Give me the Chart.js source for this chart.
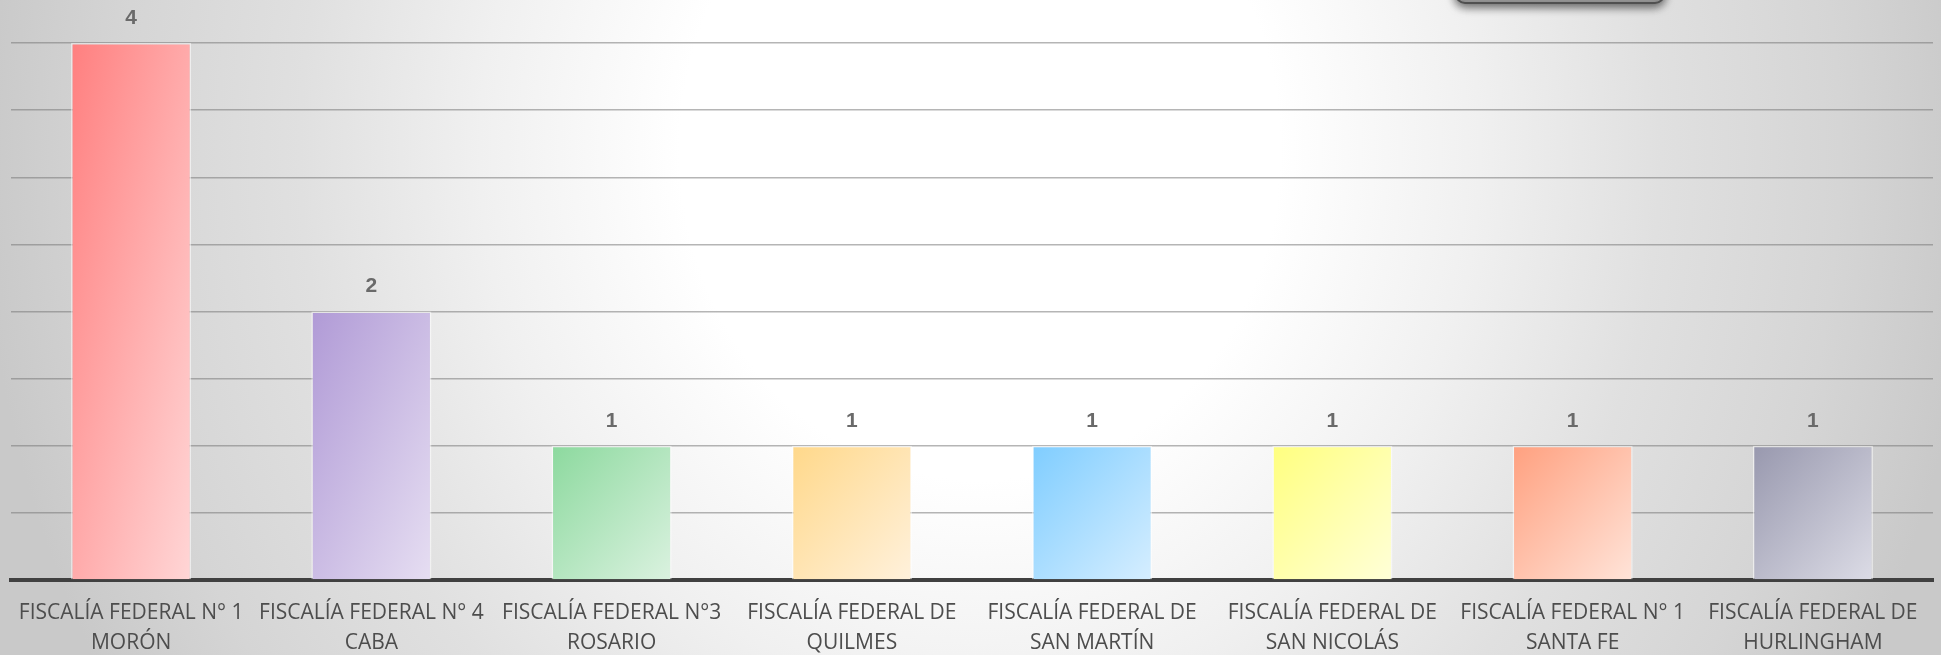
<!DOCTYPE html>
<html>
<head>
<meta charset="utf-8">
<script src="https://cdn.jsdelivr.net/npm/chart.js@4/dist/chart.umd.min.js"></script>
<style>
    html, body {
        margin: 0;
        padding: 0;
        width: 1941px;
        height: 655px;
        overflow: hidden;
    }
    body {
        background: radial-gradient(ellipse 1000px 1100px at 980px 150px,
            #ffffff 0%, #ffffff 30%, #f0f0f0 50%, #e0e0e0 68%, #d5d5d5 86%, #c9c9c9 100%);
    }
    #chart-wrap {
        position: relative;
        width: 1941px;
        height: 655px;
    }
</style>
</head>
<body>
<div id="chart-wrap">
    <canvas id="fiscalias-chart"></canvas>
</div>
<script>
// Categories (two-line labels)
const fiscalias = [
    ['FISCALÍA FEDERAL N° 1', 'MORÓN'],
    ['FISCALÍA FEDERAL N° 4', 'CABA'],
    ['FISCALÍA FEDERAL N°3', 'ROSARIO'],
    ['FISCALÍA FEDERAL DE', 'QUILMES'],
    ['FISCALÍA FEDERAL DE', 'SAN MARTÍN'],
    ['FISCALÍA FEDERAL DE', 'SAN NICOLÁS'],
    ['FISCALÍA FEDERAL N° 1', 'SANTA FE'],
    ['FISCALÍA FEDERAL DE', 'HURLINGHAM']
];

// Series values
const casos = [4, 2, 1, 1, 1, 1, 1, 1];

// Bar gradient colours: start (top-left) and end (bottom-right)
const barStartColors = ['#ff7f7f', '#b09ad6', '#8cd99e', '#ffd88a', '#7fcdff', '#ffff7f', '#ffa07f', '#9898ae'];
const barEndColors = ['#ffd6d6', '#e6def2', '#dbf2e0', '#fff1dc', '#d6eeff', '#ffffd8', '#ffe4d9', '#dcdce6'];

// Value axis
const yMax = 4;
const yStep = 0.5;

const ctx = document.getElementById('fiscalias-chart').getContext('2d');

// Corner-to-corner gradient stretched to each bar (isolines parallel to the other diagonal)
function barGradient(context) {
    const chart = context.chart;
    if (!chart.chartArea || !chart.scales.x) return barStartColors[context.dataIndex];
    const i = context.dataIndex;
    const xScale = chart.scales.x;
    const yScale = chart.scales.y;
    const cx = xScale.getPixelForValue(i);
    const w = xScale.width / fiscalias.length / 2;
    const top = yScale.getPixelForValue(casos[i]);
    const h = yScale.getPixelForValue(0) - top;
    const x0 = cx - w / 2;
    const k = 2 * w * h / (w * w + h * h);
    const g = chart.ctx.createLinearGradient(x0, top, x0 + k * h, top + k * w);
    g.addColorStop(0, barStartColors[i]);
    g.addColorStop(1, barEndColors[i]);
    return g;
}

// Value labels above the bars
const valueLabels = {
    id: 'valueLabels',
    afterDatasetsDraw(chart) {
        const c = chart.ctx;
        const meta = chart.getDatasetMeta(0);
        c.save();
        c.font = 'bold 21px "Liberation Sans", Arial, sans-serif';
        c.fillStyle = '#6a6a6a';
        c.textAlign = 'center';
        c.textBaseline = 'middle';
        meta.data.forEach((bar, i) => {
            c.fillText(String(casos[i]), bar.x, bar.y - 25);
        });
        c.restore();
    }
};

// Title box cut off at the top edge of the picture
const titleBox = {
    id: 'titleBox',
    beforeDraw(chart) {
        const c = chart.ctx;
        c.save();
        c.shadowColor = 'rgba(0,0,0,0.6)';
        c.shadowBlur = 10;
        c.shadowOffsetY = 3;
        c.fillStyle = '#9a9a9a';
        c.strokeStyle = '#505050';
        c.lineWidth = 2;
        c.beginPath();
        c.roundRect(1456, -40, 208, 43, 9);
        c.fill();
        c.stroke();
        c.restore();
    }
};

new Chart(ctx, {
    type: 'bar',
    data: {
        labels: fiscalias,
        datasets: [{
            label: 'Casos',
            data: casos,
            backgroundColor: barGradient,
            borderColor: 'rgba(255,255,255,0.55)',
            borderWidth: 1.5,
            barPercentage: 0.5,
            categoryPercentage: 1.0
        }]
    },
    options: {
        responsive: true,
        maintainAspectRatio: false,
        animation: false,
        layout: {
            padding: { top: 43, left: 11, right: 8, bottom: 0 }
        },
        plugins: {
            legend: { display: false },
            tooltip: { enabled: false },
            title: { display: false }
        },
        scales: {
            x: {
                grid: { display: false, drawTicks: false },
                border: { display: true, color: '#404040', width: 4 },
                ticks: {
                    color: '#4d4d4d',
                    padding: 18,
                    maxRotation: 0,
                    autoSkip: false,
                    font: { family: '"Open Sans", sans-serif', size: 21, lineHeight: 1.43 }
                },
                afterFit(scale) {
                    scale.height = 75;
                    scale.paddingLeft = 0;
                    scale.paddingRight = 0;
                }
            },
            y: {
                min: 0,
                max: yMax,
                grid: {
                    color: 'rgba(120,120,120,0.55)',
                    lineWidth: 1.5,
                    drawTicks: false
                },
                border: { display: false },
                ticks: { display: false, stepSize: yStep },
                afterFit(scale) {
                    scale.width = 0;
                }
            }
        }
    },
    plugins: [titleBox, valueLabels]
});
</script>
</body>
</html>
